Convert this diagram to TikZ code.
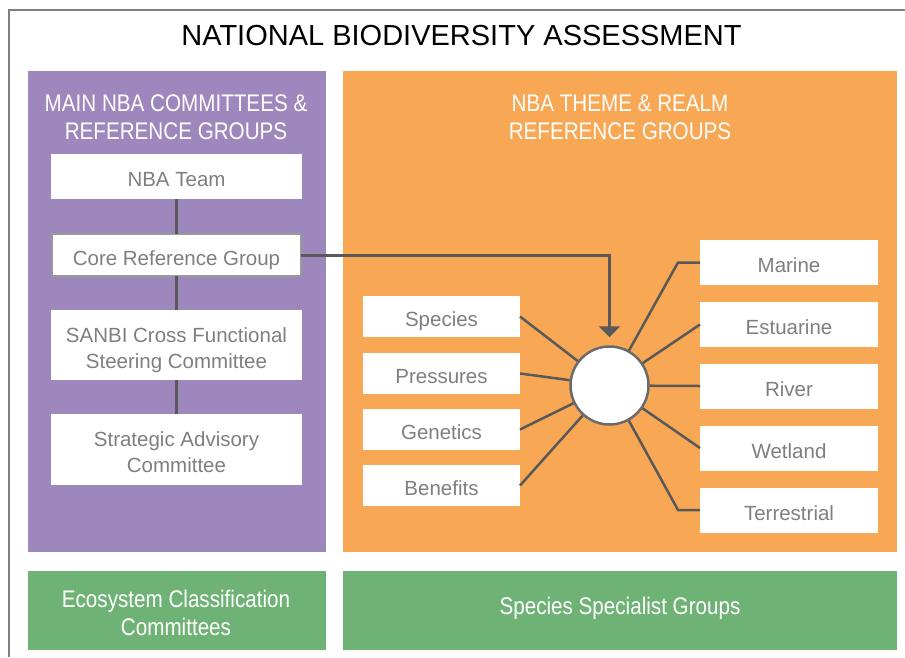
\documentclass[tikz,border=0pt]{standalone}
\usepackage{fontspec}
\setmainfont{Liberation Sans}
\newfontfamily\narrowfont[FakeStretch=0.86]{Liberation Sans}
\usetikzlibrary{arrows.meta,positioning}
\definecolor{panelpurple}{HTML}{9E87BD}
\definecolor{panelorange}{HTML}{F8A754}
\definecolor{panelgreen}{HTML}{6FB276}
\definecolor{linegray}{HTML}{595959}
\definecolor{textgray}{HTML}{7F7F7F}
\definecolor{framegray}{HTML}{808080}
\newcommand{\boxlines}[1]{\begin{tabular}{@{}c@{}}#1\end{tabular}}
\begin{document}
\begin{tikzpicture}[x=1pt,y=-1pt,
  panel/.style={inner sep=0pt, outer sep=0pt},
  whitebox/.style={fill=white, inner sep=0pt, outer sep=0pt},
  boxtext/.style={text=textgray, inner sep=0pt, yshift=-5pt,
    font=\fontsize{20.5}{26}\selectfont},
  headtext/.style={text=white, align=center, inner sep=0pt, font=\narrowfont\fontsize{24}{28}\selectfont},
  vlink/.style={draw=linegray, line width=3pt},
  spoke/.style={draw=linegray, line width=2.5pt}
]
\useasboundingbox (0,0) rectangle (905,657);
\fill[white] (0,0) rectangle (905,657);
% outer frame
\draw[framegray, line width=1.5pt] (9,657) -- (9,10) -- (905,10);
\node[inner sep=0pt, font=\fontsize{29}{34}\selectfont] (title) at (461.5,35.5) {NATIONAL BIODIVERSITY ASSESSMENT};
% panels
\node[panel, fill=panelpurple, minimum width=298pt, minimum height=481pt] (pp) at (177,311.5) {};
\node[panel, fill=panelorange, minimum width=554pt, minimum height=481pt] (po) at (620,311.5) {};
\node[panel, fill=panelgreen, minimum width=298pt, minimum height=79pt] (g1) at (177,610.5) {};
\node[panel, fill=panelgreen, minimum width=554pt, minimum height=79pt] (g2) at (620,610.5) {};
\node[headtext] (pt) at (176,117) {MAIN NBA COMMITTEES \&\\REFERENCE GROUPS};
\node[headtext] (ot) at (620,117) {NBA THEME \& REALM\\REFERENCE GROUPS};
\node[headtext] (g1t) at (176,613) {Ecosystem Classification\\Committees};
\node[headtext] (g2t) at (620,608.5) {Species Specialist Groups};
% left column
\node[whitebox, minimum width=251pt, minimum height=45pt,
  label={[boxtext]center:{\boxlines{NBA Team}}}] (nba) at (176.5,176) {};
\node[whitebox, draw=textgray!80, line width=2pt, minimum width=249pt, minimum height=42pt,
  label={[boxtext]center:{\boxlines{Core Reference Group}}}] (core) at (176.5,255) {};
\node[whitebox, minimum width=251pt, minimum height=70pt,
  label={[boxtext]center:{\boxlines{SANBI Cross Functional\\Steering Committee}}}] (sanbi) at (176.5,345) {};
\node[whitebox, minimum width=251pt, minimum height=71pt,
  label={[boxtext]center:{\boxlines{Strategic Advisory\\Committee}}}] (sac) at (176.5,449.5) {};
\draw[vlink] (nba.south) -- (core.north);
\draw[vlink] (core.south) -- (sanbi.north);
\draw[vlink] (sanbi.south) -- (sac.north);
% hub
\node[circle, fill=white, draw=linegray!90, line width=2.5pt, minimum size=78pt, inner sep=0pt] (hub) at (609.5,385.5) {};
% left theme boxes
\node[whitebox, minimum width=157pt, minimum height=41pt, label={[boxtext]center:{\boxlines{Species}}}] (sp) at (441.5,316.5) {};
\node[whitebox, minimum width=157pt, minimum height=41pt, label={[boxtext]center:{\boxlines{Pressures}}}] (pr) at (441.5,373.5) {};
\node[whitebox, minimum width=157pt, minimum height=41pt, label={[boxtext]center:{\boxlines{Genetics}}}] (ge) at (441.5,429.5) {};
\node[whitebox, minimum width=157pt, minimum height=41pt, label={[boxtext]center:{\boxlines{Benefits}}}] (be) at (441.5,485.5) {};
% right realm boxes
\node[whitebox, minimum width=178pt, minimum height=45pt, label={[boxtext]center:{\boxlines{Marine}}}] (ma) at (789,262.5) {};
\node[whitebox, minimum width=178pt, minimum height=45pt, label={[boxtext]center:{\boxlines{Estuarine}}}] (es) at (789,324.5) {};
\node[whitebox, minimum width=178pt, minimum height=45pt, label={[boxtext]center:{\boxlines{River}}}] (ri) at (789,386) {};
\node[whitebox, minimum width=178pt, minimum height=45pt, label={[boxtext]center:{\boxlines{Wetland}}}] (we) at (789,448) {};
\node[whitebox, minimum width=178pt, minimum height=45pt, label={[boxtext]center:{\boxlines{Terrestrial}}}] (te) at (789,510) {};
% spokes
\draw[spoke] (sp.east) -- (hub);
\draw[spoke] (pr.east) -- (hub);
\draw[spoke] (ge.east) -- (hub);
\draw[spoke] (be.east) -- (hub);
\coordinate (mk) at ([xshift=-22pt]ma.west);
\coordinate (tk) at ([xshift=-22pt]te.west);
\draw[spoke] (ma.west) -- (mk) -- (hub);
\draw[spoke] (es.west) -- (hub);
\draw[spoke] (ri.west) -- (hub);
\draw[spoke] (we.west) -- (hub);
\draw[spoke] (te.west) -- (tk) -- (hub);
% arrow from core to hub
\draw[linegray, line width=3pt, -{Triangle[width=21pt,length=11pt]}, shorten >=8pt]
  (core.east) -| (hub.north);
\end{tikzpicture}
\end{document}
